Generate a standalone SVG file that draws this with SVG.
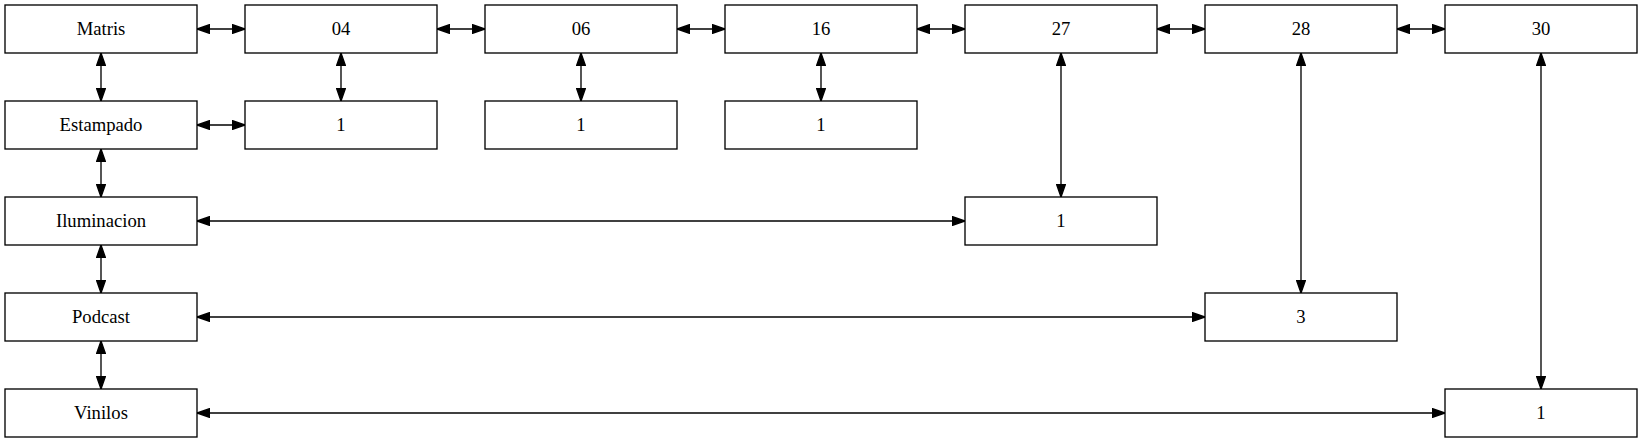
<svg xmlns="http://www.w3.org/2000/svg" width="1643" height="443" viewBox="0 0 1643 443">
<style>
.n rect{fill:#fff;stroke:#000;stroke-width:1.33}
.n text{font-family:"Times New Roman","Liberation Serif",Times,serif;font-size:18.67px;text-anchor:middle;fill:#000}
.e path{fill:none;stroke:#000;stroke-width:1.33;marker-start:url(#ah);marker-end:url(#ah)}
</style>
<defs>
<marker id="ah" viewBox="0 0 10 7" refX="10" refY="3.5" markerWidth="13.33" markerHeight="9.33" markerUnits="userSpaceOnUse" orient="auto-start-reverse">
<path d="M0,0 L10,3.5 L0,7 z" fill="#000" stroke="#000" stroke-width="1"/>
</marker>
</defs>
<rect width="1643" height="443" fill="#fff"/>
<g id="edges" class="e">
<path d="M197,29 H245"/>
<path d="M437,29 H485"/>
<path d="M677,29 H725"/>
<path d="M917,29 H965"/>
<path d="M1157,29 H1205"/>
<path d="M1397,29 H1445"/>
<path d="M101,53 V101"/>
<path d="M101,149 V197"/>
<path d="M101,245 V293"/>
<path d="M101,341 V389"/>
<path d="M197,125 H245"/>
<path d="M341,53 V101"/>
<path d="M581,53 V101"/>
<path d="M821,53 V101"/>
<path d="M1061,53 V197"/>
<path d="M197,221 H965"/>
<path d="M1301,53 V293"/>
<path d="M197,317 H1205"/>
<path d="M1541,53 V389"/>
<path d="M197,413 H1445"/>
</g>
<g id="matris" class="n"><rect x="5" y="5" width="192" height="48"/><text x="101" y="35">Matris</text></g>
<g id="c04" class="n"><rect x="245" y="5" width="192" height="48"/><text x="341" y="35">04</text></g>
<g id="c06" class="n"><rect x="485" y="5" width="192" height="48"/><text x="581" y="35">06</text></g>
<g id="c16" class="n"><rect x="725" y="5" width="192" height="48"/><text x="821" y="35">16</text></g>
<g id="c27" class="n"><rect x="965" y="5" width="192" height="48"/><text x="1061" y="35">27</text></g>
<g id="c28" class="n"><rect x="1205" y="5" width="192" height="48"/><text x="1301" y="35">28</text></g>
<g id="c30" class="n"><rect x="1445" y="5" width="192" height="48"/><text x="1541" y="35">30</text></g>
<g id="estampado" class="n"><rect x="5" y="101" width="192" height="48"/><text x="101" y="131">Estampado</text></g>
<g id="est04" class="n"><rect x="245" y="101" width="192" height="48"/><text x="341" y="131">1</text></g>
<g id="est06" class="n"><rect x="485" y="101" width="192" height="48"/><text x="581" y="131">1</text></g>
<g id="est16" class="n"><rect x="725" y="101" width="192" height="48"/><text x="821" y="131">1</text></g>
<g id="iluminacion" class="n"><rect x="5" y="197" width="192" height="48"/><text x="101" y="227">Iluminacion</text></g>
<g id="ilu27" class="n"><rect x="965" y="197" width="192" height="48"/><text x="1061" y="227">1</text></g>
<g id="podcast" class="n"><rect x="5" y="293" width="192" height="48"/><text x="101" y="323">Podcast</text></g>
<g id="pod28" class="n"><rect x="1205" y="293" width="192" height="48"/><text x="1301" y="323">3</text></g>
<g id="vinilos" class="n"><rect x="5" y="389" width="192" height="48"/><text x="101" y="419">Vinilos</text></g>
<g id="vin30" class="n"><rect x="1445" y="389" width="192" height="48"/><text x="1541" y="419">1</text></g>
</svg>
